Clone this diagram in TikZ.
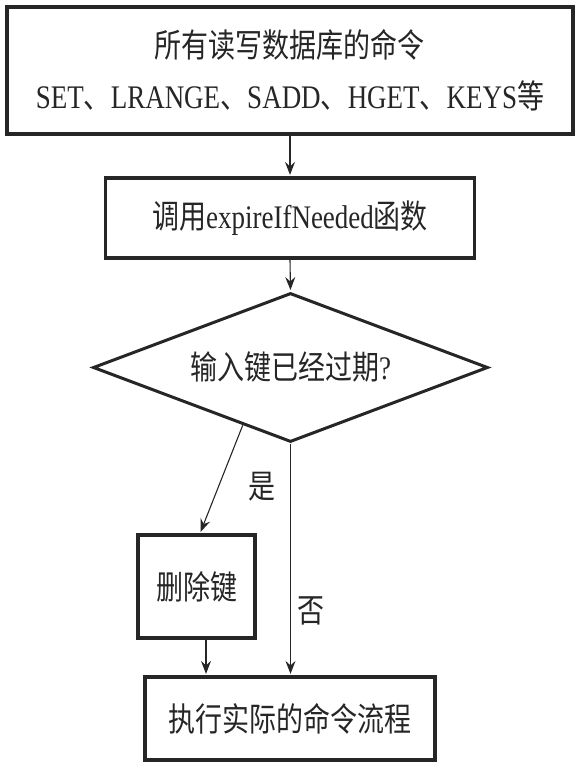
\documentclass[tikz,border=0pt]{standalone}
\usepackage{fontspec}
\usepackage{tikz}
\setmainfont{Liberation Serif}
\newfontfamily\cjk{Noto Sans CJK SC}
\newcommand\tall[1]{\scalebox{1}[1.22]{#1}}
\usetikzlibrary{shapes.geometric,arrows.meta,calc}

\tikzset{
    box/.style={draw=black!85,line width=3.2pt,rectangle,inner sep=0pt},
    arr/.style={draw=black!85,line width=1.1pt,shorten >=1.5pt,-{Stealth[length=13pt,width=10pt,inset=4.5pt]}},
}

\begin{document}
\begin{tikzpicture}[x=1pt,y=-1pt,font=\fontsize{27}{51}\selectfont,text=black!85]
                \useasboundingbox (0,0) rectangle (578,769);
                \node[box,minimum width=566pt,minimum height=127pt,align=center] (cmds) at (290,70.5)
                    {\tall{\cjk 所有读写数据库的命令}\\\tall{SET{\cjk 、}LRANGE{\cjk 、}SADD{\cjk 、}HGET{\cjk 、}KEYS{\cjk 等}}};
                \node[box,minimum width=369pt,minimum height=80pt] (call) at (290,218) {\tall{{\cjk 调用}expireIfNeeded{\cjk 函数}}};
                \node[draw=black!85,diamond,aspect=2.65,line width=3pt,inner sep=0pt,minimum width=395pt,minimum height=149pt] (check) at (290.5,367.5) {\tall{{\cjk 输入键已经过期}?}};
                \node[box,minimum width=117pt,minimum height=103pt] (del) at (196.5,586.5) {\tall{\cjk 删除键}};
                \node[box,minimum width=290pt,minimum height=83pt] (exec) at (290,718.5) {\tall{\cjk 执行实际的命令流程}};
                \draw[arr] (cmds.south) -- (call.north);
                \draw[arr] (call.south) -- (check.north);
                \draw[arr] ($(check.west)!0.76!(check.south)$) -- ([xshift=3.5pt]del.north) node[pos=0.57,right=30pt,inner sep=0pt] {\tall{\cjk 是}};
                \draw[arr] (check.south) -- (check.south |- exec.north) node[pos=0.72,right=6pt,inner sep=0pt] {\tall{\cjk 否}};
                \draw[arr] ([xshift=9.5pt]del.south) -- ([xshift=9.5pt]del.south |- exec.north);
            \end{tikzpicture}
\end{document}
